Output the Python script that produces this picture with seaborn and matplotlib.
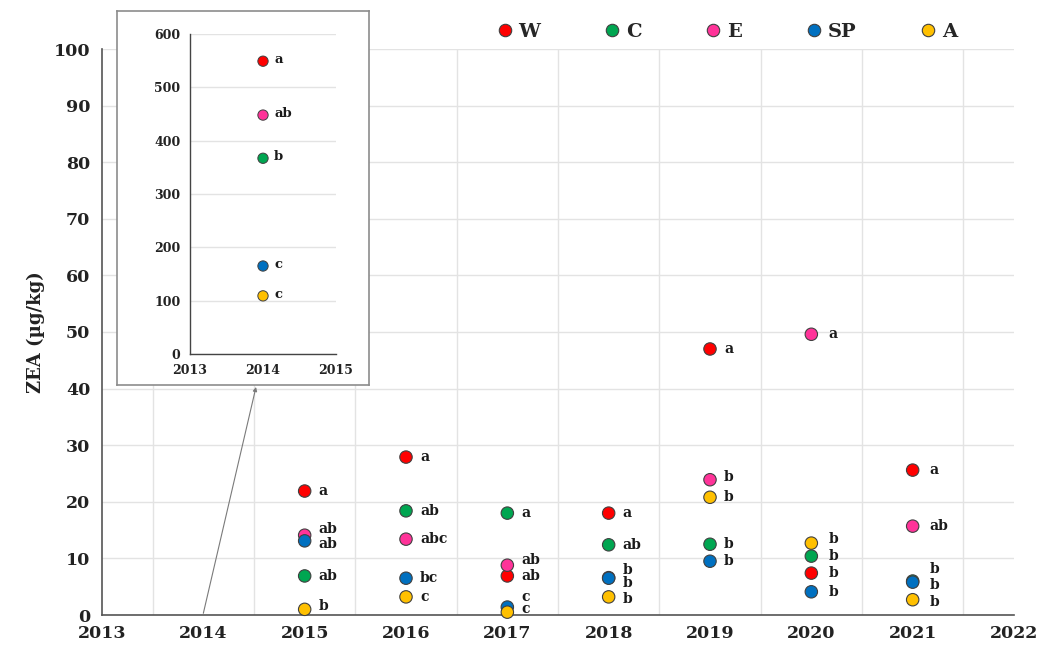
import matplotlib.pyplot as plt
import numpy as np
import pandas as pd
import seaborn as sns

# ------------------------------ data

YEARS = [2015, 2016, 2017, 2018, 2019, 2020, 2021]
SERIES = ["W", "C", "E", "SP", "A"]

W = [21.9, 27.9, 6.9, 18.0, 47.0, 7.4, 25.6]
C = [6.9, 18.4, 18.0, 12.4, 12.5, 10.4, 6.0]
E = [14.1, 13.4, 8.8, 6.6, 23.9, 49.6, 15.7]
SP = [13.1, 6.5, 1.4, 6.5, 9.5, 4.1, 5.8]
A = [1.0, 3.2, 0.5, 3.2, 20.8, 12.7, 2.7]

W_LETTERS = ["a", "a", "ab", "a", "a", "b", "a"]
C_LETTERS = ["ab", "ab", "a", "ab", "b", "b", "b"]
E_LETTERS = ["ab", "abc", "ab", "b", "b", "a", "ab"]
SP_LETTERS = ["ab", "bc", "c", "b", "b", "b", "b"]
A_LETTERS = ["b", "c", "c", "b", "b", "b", "b"]

# inset: 2014 only
INSET_YEAR = [2014]
INSET_VALUES = [549, 367, 448, 165, 109]  # W, C, E, SP, A
INSET_LETTERS = ["a", "b", "ab", "c", "c"]

# ------------------------------ style

PALETTE = {
    "W": "#ff0000",
    "C": "#00a651",
    "E": "#ff3399",
    "SP": "#0070c0",
    "A": "#ffc000",
}
DARK = "#404040"
GRID = "#e3e3e3"
FONT = ["DejaVu Serif"]

# label nudges in pixels (dy > 0 means down), to untangle overlapping letters
LABEL_DY = {
    ("E", 2015): -6, ("SP", 2015): 3, ("A", 2015): -3,
    ("E", 2017): -5, ("SP", 2017): -10, ("A", 2017): -3,
    ("E", 2018): -8, ("SP", 2018): 5, ("A", 2018): 2,
    ("E", 2019): -3, ("A", 2020): -4,
    ("C", 2021): -12, ("SP", 2021): 3, ("A", 2021): 2,
}
LABEL_DX = {2020: 17, 2021: 17}

sns.set_style("white")
plt.rcParams["font.family"] = FONT
plt.rcParams["font.weight"] = "bold"

DPI = 100
fig = plt.figure(figsize=(1049 / DPI, 657 / DPI), dpi=DPI)
W_PX, H_PX = 1049, 657


def fig_rect(x0, y0, x1, y1):
    return [x0 / W_PX, 1 - y1 / H_PX, (x1 - x0) / W_PX, (y1 - y0) / H_PX]


ax = fig.add_axes(fig_rect(102, 49, 1014, 615))

values = {"W": W, "C": C, "E": E, "SP": SP, "A": A}
letters = {"W": W_LETTERS, "C": C_LETTERS, "E": E_LETTERS, "SP": SP_LETTERS, "A": A_LETTERS}
rows = []
for s in SERIES:
    for yr, v, lt in zip(YEARS, values[s], letters[s]):
        rows.append({"year": yr, "value": v, "series": s, "letter": lt})
df = pd.DataFrame(rows)

sns.scatterplot(
    data=df, x="year", y="value", hue="series", hue_order=SERIES, palette=PALETTE,
    s=80, edgecolor=DARK, linewidth=0.8, zorder=3, clip_on=False, ax=ax,
)

for _, r in df.iterrows():
    dy = LABEL_DY.get((r["series"], r["year"]), 0)
    dx = LABEL_DX.get(r["year"], 14)
    ax.annotate(
        r["letter"], (r["year"], r["value"]), xytext=(dx * 0.72, -dy * 0.72),
        textcoords="offset points", ha="left", va="center", fontsize=10,
        fontweight="bold", color="#1a1a1a", zorder=4,
    )

ax.set_xlim(2013, 2022)
ax.set_ylim(0, 100)
ax.set_xticks(range(2013, 2023))
ax.set_xticks(np.arange(2013.5, 2022, 1), minor=True)
ax.set_yticks(range(0, 101, 10))
ax.grid(False)
ax.xaxis.grid(True, which="minor", color=GRID, lw=1)
ax.yaxis.grid(True, which="major", color=GRID, lw=1)
ax.set_axisbelow(True)
for side in ["top", "right"]:
    ax.spines[side].set_visible(False)
for side in ["left", "bottom"]:
    ax.spines[side].set_color("#555555")
    ax.spines[side].set_linewidth(1.2)
ax.tick_params(axis="both", which="major", direction="inout", length=10, width=1,
               color="#555555", labelsize=12.5, labelcolor="#222222")
ax.tick_params(axis="x", which="minor", length=0)
ax.tick_params(axis="x", pad=2)
ax.set_xlabel("")
ax.set_ylabel("ZEA (µg/kg)", fontsize=13, fontweight="bold", color="#222222", labelpad=6)

sns.move_legend(
    ax, "center", bbox_to_anchor=(726 / W_PX, 1 - 32 / H_PX), bbox_transform=fig.transFigure,
    ncol=5, frameon=False, title=None, handlelength=1.0, handletextpad=0.2,
    columnspacing=3.2, prop={"weight": "bold", "size": 14},
)

# ------------------------------ inset

frame = fig.add_axes(fig_rect(117, 11, 369, 385))
frame.set_xticks([])
frame.set_yticks([])
frame.set_facecolor("white")
for sp in frame.spines.values():
    sp.set_color("#8c8c8c")
    sp.set_linewidth(1.2)

inset = fig.add_axes(fig_rect(190, 34, 336, 354))
inset.set_facecolor("none")
inset_df = pd.DataFrame({"year": INSET_YEAR * len(SERIES), "value": INSET_VALUES,
                         "series": SERIES, "letter": INSET_LETTERS})
sns.scatterplot(
    data=inset_df, x="year", y="value", hue="series", hue_order=SERIES, palette=PALETTE,
    s=55, edgecolor=DARK, linewidth=0.7, zorder=3, legend=False, ax=inset,
)
for _, r in inset_df.iterrows():
    inset.annotate(r["letter"], (r["year"], r["value"]), xytext=(8, 1),
                   textcoords="offset points", ha="left", va="center",
                   fontsize=9.5, fontweight="bold", color="#1a1a1a")
inset.set_xlim(2013, 2015)
inset.set_ylim(0, 600)
inset.set_xticks([2013, 2014, 2015])
inset.set_yticks(range(0, 601, 100))
inset.grid(False)
inset.yaxis.grid(True, color=GRID, lw=1)
inset.set_axisbelow(True)
for side in ["top", "right"]:
    inset.spines[side].set_visible(False)
for side in ["left", "bottom"]:
    inset.spines[side].set_color("#444444")
    inset.spines[side].set_linewidth(1.0)
inset.tick_params(axis="both", direction="inout", length=7, width=1, color="#444444",
                  labelsize=9, labelcolor="#222222")
inset.set_xlabel("")
inset.set_ylabel("")

# arrow from 2014 on the main axis up to the inset
ax.annotate(
    "", xy=(256 / W_PX, 1 - 387 / H_PX), xycoords="figure fraction",
    xytext=(2014, 0.3), textcoords="data",
    arrowprops=dict(arrowstyle="-|>", color="#7a7a7a", lw=0.8, mutation_scale=6,
                    shrinkA=0, shrinkB=0),
    annotation_clip=False,
)

fig.savefig("out.png", dpi=DPI)
